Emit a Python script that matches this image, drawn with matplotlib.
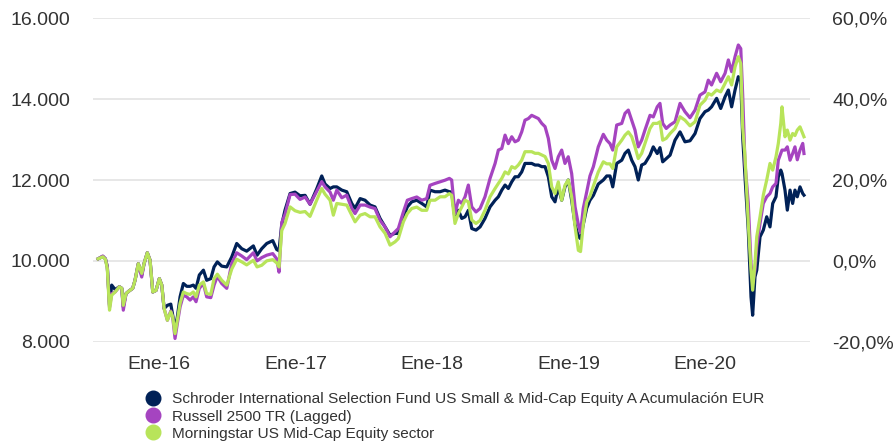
import matplotlib
matplotlib.use("Agg")
import matplotlib.pyplot as plt
from matplotlib.lines import Line2D
from matplotlib.ticker import FuncFormatter

plt.rcParams['font.family'] = ['Liberation Sans', 'DejaVu Sans']

# fecha en años decimales
years = [
    2015.553, 2015.588, 2015.607, 2015.621, 2015.637, 2015.653, 2015.678, 2015.709, 2015.727, 2015.738, 2015.758, 2015.782, 2015.807, 2015.824,
    2015.848, 2015.873, 2015.890, 2015.914, 2015.934, 2015.954, 2015.978, 2016.002, 2016.020, 2016.037, 2016.061, 2016.086, 2016.100, 2016.117,
    2016.134, 2016.154, 2016.178, 2016.203, 2016.227, 2016.251, 2016.271, 2016.295, 2016.325, 2016.349, 2016.379, 2016.403, 2016.427, 2016.459,
    2016.496, 2016.533, 2016.569, 2016.606, 2016.642, 2016.691, 2016.718, 2016.752, 2016.789, 2016.833, 2016.862, 2016.879, 2016.899, 2016.923,
    2016.960, 2016.996, 2017.033, 2017.070, 2017.106, 2017.155, 2017.192, 2017.216, 2017.253, 2017.277, 2017.302, 2017.339, 2017.375, 2017.412,
    2017.436, 2017.473, 2017.509, 2017.546, 2017.582, 2017.619, 2017.656, 2017.692, 2017.729, 2017.753, 2017.790, 2017.819, 2017.851, 2017.888,
    2017.925, 2017.961, 2017.985, 2018.022, 2018.059, 2018.095, 2018.127, 2018.144, 2018.168, 2018.193, 2018.218, 2018.242, 2018.266, 2018.291,
    2018.322, 2018.352, 2018.388, 2018.425, 2018.462, 2018.486, 2018.511, 2018.535, 2018.559, 2018.584, 2018.608, 2018.632, 2018.657, 2018.681,
    2018.706, 2018.730, 2018.755, 2018.779, 2018.804, 2018.828, 2018.852, 2018.877, 2018.901, 2018.925, 2018.950, 2018.974, 2018.998, 2019.023,
    2019.048, 2019.072, 2019.088, 2019.108, 2019.133, 2019.157, 2019.182, 2019.218, 2019.255, 2019.280, 2019.304, 2019.324, 2019.353, 2019.390,
    2019.414, 2019.438, 2019.463, 2019.487, 2019.511, 2019.536, 2019.560, 2019.597, 2019.621, 2019.650, 2019.670, 2019.690, 2019.716, 2019.744,
    2019.780, 2019.817, 2019.853, 2019.890, 2019.927, 2019.963, 2020.000, 2020.024, 2020.048, 2020.085, 2020.115, 2020.147, 2020.171, 2020.195,
    2020.220, 2020.244, 2020.262, 2020.276, 2020.293, 2020.317, 2020.337, 2020.349, 2020.366, 2020.379, 2020.403, 2020.427, 2020.452, 2020.476,
    2020.496, 2020.520, 2020.537, 2020.555, 2020.564, 2020.586, 2020.603, 2020.623, 2020.642, 2020.659, 2020.676, 2020.696, 2020.716, 2020.725,
]

fondo = [
    10050, 10110, 10050, 9850, 8900, 9400, 9290, 9360, 9320, 8860, 9190, 9260, 9320, 9520,
    9930, 9650, 9930, 10200, 10015, 9230, 9270, 9560, 9400, 8820, 8900, 8930, 8650, 8325,
    8610, 9110, 9440, 9370, 9370, 9400, 9320, 9650, 9770, 9520, 9560, 9850, 9975, 9870,
    9850, 10100, 10430, 10300, 10240, 10370, 10140, 10300, 10430, 10500, 10280, 10250, 10900, 11255,
    11665, 11700, 11610, 11620, 11400, 11780, 12100, 11900, 11790, 11830, 11830, 11750, 11710, 11420,
    11300, 11540, 11500, 11380, 11335, 11050, 10840, 10635, 10680, 10680, 11090, 11335, 11460, 11500,
    11420, 11335, 11750, 11710, 11710, 11750, 11710, 11700, 11050, 11250, 11050, 11090, 11250, 10800,
    10760, 10840, 11050, 11335, 11500, 11585, 11750, 11875, 11790, 11955, 12080, 12080, 12200, 12410,
    12410, 12410, 12370, 12370, 12330, 12330, 12080, 11585, 11460, 11830, 11500, 11830, 12000, 11500,
    10900, 10600, 10550, 10900, 11300, 11500, 11620, 11900, 12000, 12100, 12100, 11830, 12410, 12490,
    12660, 12740, 12490, 12330, 12000, 12370, 12410, 12615, 12820, 12655, 12800, 12450, 12530, 12615,
    12985, 13190, 12945, 12970, 13150, 13520, 13690, 13730, 13810, 14020, 13770, 14060, 14225, 13810,
    14225, 14555, 14450, 13070, 12080, 10760, 9110, 8655, 9605, 9770, 10595, 10760, 11090, 10840,
    11420, 11585, 12080, 12245, 12160, 11750, 11255, 11750, 11420, 11750, 11585, 11830, 11665, 11625,
]

russell = [
    10050, 10120, 10050, 9850, 8850, 9190, 9230, 9360, 9320, 8780, 9190, 9260, 9320, 9520,
    9930, 9600, 9930, 10200, 10015, 9230, 9270, 9560, 9400, 8820, 8530, 8760, 8610, 8080,
    8450, 8860, 9150, 9110, 9030, 9110, 8990, 9320, 9440, 9110, 9090, 9400, 9620, 9440,
    9320, 9940, 10200, 10120, 10030, 10200, 10000, 10080, 10140, 10180, 10050, 9720, 10950, 11150,
    11640, 11650, 11520, 11580, 11400, 11720, 11960, 11830, 11700, 11500, 11750, 11560, 11625, 11295,
    11170, 11380, 11380, 11330, 11295, 11000, 10840, 10595, 10720, 10800, 11210, 11500, 11540, 11580,
    11500, 11540, 11870, 11915, 11955, 11995, 12040, 12000, 11170, 11500, 11420, 11585, 11875, 11335,
    11210, 11295, 11585, 12040, 12410, 12740, 12780, 13110, 12900, 13070, 12945, 12985, 13190, 13480,
    13520, 13600, 13560, 13520, 13400, 13320, 13030, 12490, 12285, 12575, 12740, 12410, 12575, 12160,
    11335, 10900, 10700, 11300, 11700, 12100, 12330, 12820, 13130, 12985, 12900, 12740, 13360, 13400,
    13650, 13730, 13480, 13235, 12820, 12985, 13235, 13600, 13560, 13810, 13895, 13400, 13275, 13360,
    13440, 13895, 13690, 13540, 13730, 14100, 14180, 14470, 14350, 14640, 14430, 14640, 14970, 14680,
    15050, 15340, 15250, 14100, 12410, 11420, 9930, 9440, 9770, 10345, 10925, 11420, 11585, 11665,
    11830, 11915, 12490, 12655, 12740, 12740, 12820, 12490, 12655, 12820, 12500, 12740, 12905, 12655,
]

sector = [
    10050, 10100, 10040, 9800, 8780, 9150, 9230, 9360, 9320, 8900, 9190, 9260, 9320, 9520,
    9930, 9690, 9930, 10200, 10015, 9230, 9270, 9560, 9400, 8820, 8530, 8740, 8610, 8200,
    8530, 8950, 9230, 9190, 9170, 9230, 9110, 9400, 9480, 9190, 9170, 9560, 9670, 9520,
    9400, 9800, 10040, 9975, 9900, 10015, 9850, 9890, 10000, 10030, 9950, 9850, 10750, 10925,
    11335, 11240, 11200, 11220, 11100, 11500, 11790, 11650, 11500, 11130, 11420, 11400, 11380, 11130,
    10965, 11130, 11170, 11090, 11090, 10840, 10680, 10390, 10470, 10550, 10965, 11170, 11295, 11330,
    11250, 11250, 11500, 11500, 11585, 11585, 11665, 11620, 10925, 11170, 11335, 11500, 11460, 11010,
    10925, 11000, 11250, 11585, 11790, 11915, 12040, 12200, 12150, 12330, 12290, 12370, 12490, 12700,
    12700, 12700, 12660, 12660, 12620, 12580, 12410, 11830, 11665, 11955, 11500, 11870, 12000, 11580,
    10840, 10260, 10230, 10900, 11450, 11600, 11850, 12200, 12450, 12400, 12400, 12285, 12820, 12985,
    13110, 13190, 13070, 12820, 12530, 12660, 12905, 13275, 13400, 13400, 13440, 12985, 13030, 13150,
    13275, 13565, 13480, 13340, 13440, 13850, 13975, 14140, 14100, 14225, 14180, 14390, 14555, 14350,
    14800, 15050, 14880, 13300, 12575, 10925, 9770, 9275, 9930, 10595, 11090, 11625, 12000, 12410,
    12245, 12575, 12905, 13400, 13810, 13070, 13235, 12985, 13150, 13100, 13235, 13315, 13150, 13070,
]

nombres = [
    "Schroder International Selection Fund US Small & Mid-Cap Equity A Acumulación EUR",
    "Russell 2500 TR (Lagged)",
    "Morningstar US Mid-Cap Equity sector",
]
colores = ["#002157", "#a544c0", "#b8e45a"]

anios = [2016, 2017, 2018, 2019, 2020]
etiquetas_x = ["Ene-16", "Ene-17", "Ene-18", "Ene-19", "Ene-20"]
ticks_izq = [8000, 10000, 12000, 14000, 16000]
ticks_der = [-20, 0, 20, 40, 60]

texto = "#333333"

fig = plt.figure(figsize=(8.95, 4.42), dpi=100)
ax = fig.add_axes([0.1039, 0.2269, 0.8011, 0.7317])

for serie, c in zip([fondo, russell, sector], colores):
    ax.plot(years, serie, color=c, lw=2.3, solid_joinstyle='round')

ax.set_xlim(2015.516, 2020.769)
ax.set_ylim(8000, 16000)
ax.set_yticks(ticks_izq)
ax.yaxis.set_major_formatter(FuncFormatter(lambda v, p: f"{int(v):,}".replace(",", ".")))
ax.set_xticks(anios)
ax.set_xticklabels(etiquetas_x)
ax.grid(axis='y', color='#e3e3e3', lw=1.2)
ax.set_axisbelow(True)
for s in ax.spines.values():
    s.set_visible(False)
ax.tick_params(axis='both', length=0, labelsize=14, colors=texto)
ax.tick_params(axis='y', pad=16.5)
ax.tick_params(axis='x', pad=10)

ax2 = ax.twinx()
ax2.set_ylim(-20, 60)
ax2.set_yticks(ticks_der)
ax2.yaxis.set_major_formatter(FuncFormatter(lambda v, p: f"{v:.1f}%".replace(".", ",")))
for s in ax2.spines.values():
    s.set_visible(False)
ax2.tick_params(axis='y', length=0, labelsize=14, colors=texto, pad=16)

handles = [Line2D([], [], marker='o', ls='none', markersize=10.5, color=c) for c in colores]
fig.legend(handles, nombres, loc='upper left', bbox_to_anchor=(0.1626, 0.112),
           frameon=False, fontsize=11.1, labelcolor=texto, borderpad=0,
           handlelength=1.0, handletextpad=0.7, labelspacing=0.2, borderaxespad=0)

fig.savefig("out.png", dpi=100)
